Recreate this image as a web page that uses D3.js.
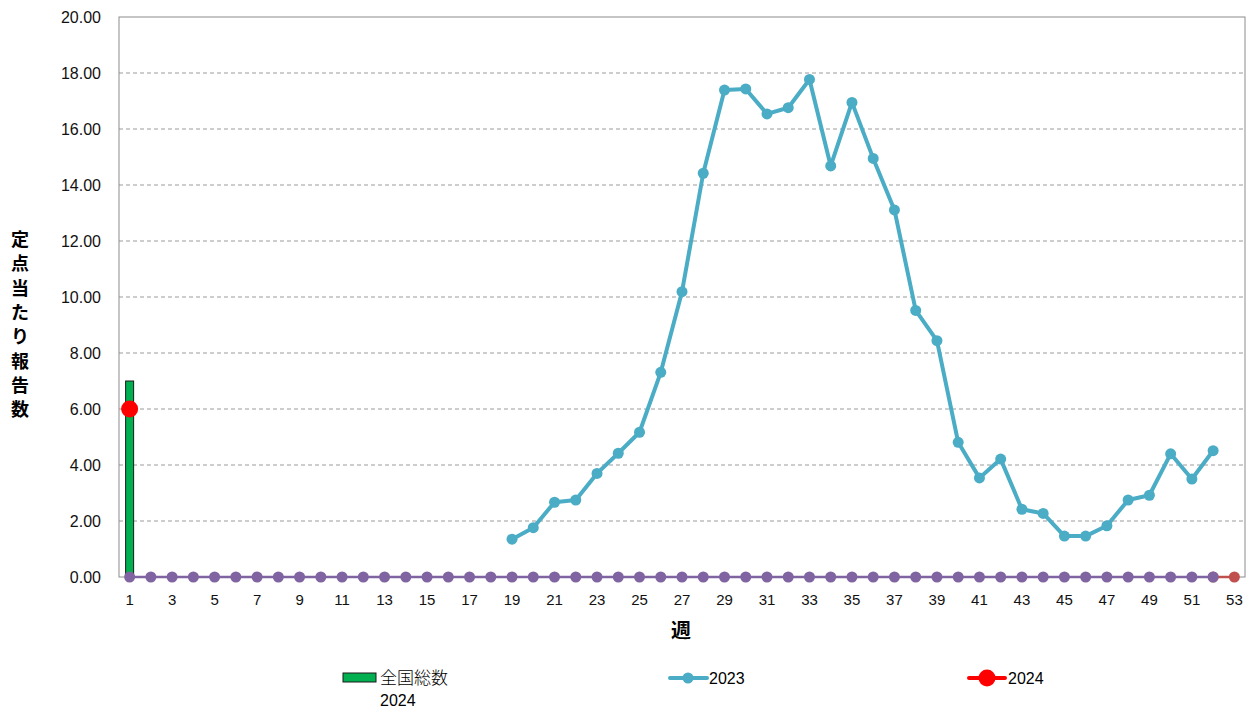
<!DOCTYPE html>
<html><head><meta charset="utf-8">
<title>定点当たり報告数</title>
<script src="https://cdn.jsdelivr.net/npm/d3@7"></script>
<style>
  html,body{margin:0;background:#fff;font-family:"Liberation Sans",Arial,sans-serif}
  .grid line{stroke:#9a9a9a;stroke-dasharray:4,3;stroke-width:1}
  .tick text{fill:#111}
</style>
</head><body>
<svg width="1253" height="708"></svg>
<script>
// --- data ---
const weeks = d3.range(1, 54);                 // 1..53
const yTicks = [0,2,4,6,8,10,12,14,16,18,20];
const totalWeeks = [1];                         // 全国総数 2024 (bar)
const totalValues = [7.0];
const y2023Weeks = d3.range(19, 53);            // 19..52
const y2023Values = [1.35,1.76,2.67,2.75,3.70,4.42,5.17,7.31,10.19,14.42,
  17.39,17.43,16.54,16.76,17.77,14.68,16.95,14.95,13.11,9.52,
  8.44,4.81,3.54,4.21,2.42,2.27,1.46,1.46,1.83,2.75,
  2.92,4.40,3.50,4.51];
const y2024Weeks = [1];
const y2024Values = [6.0];
const baseWeeks = d3.range(1, 53);              // purple zero series
const baseValues = baseWeeks.map(() => 0);
const tailWeeks = [52, 53];                     // dark red zero series
const tailValues = [0, 0];

// --- layout ---
const svg = d3.select('svg');
const L = 119, R = 1245, T = 17, B = 577;

const x = d3.scaleBand().domain(weeks).range([L, R]);
const cx = w => x(w) + x.bandwidth() / 2;
const y = d3.scaleLinear().domain([0, 20]).range([B, T]);

// grid
svg.append('g').attr('class','grid')
  .selectAll('line').data(yTicks.filter(t => t > 0 && t < 20)).join('line')
  .attr('x1', L).attr('x2', R).attr('y1', d => y(d)).attr('y2', d => y(d));

// border
svg.append('rect').attr('x', L).attr('y', T).attr('width', R - L).attr('height', B - T)
  .attr('fill','none').attr('stroke','#8c8c8c').attr('stroke-width',1);

// y axis
const yAxis = svg.append('g').attr('transform', `translate(${L},0)`)
  .call(d3.axisLeft(y).tickValues(yTicks).tickFormat(d3.format('.2f')).tickSize(0).tickPadding(18));
yAxis.select('.domain').remove();
yAxis.selectAll('text').style('font-size','16px');

// x axis
const xAxis = svg.append('g').attr('transform', `translate(0,${B})`)
  .call(d3.axisBottom(x).tickValues(weeks.filter(w => w % 2 === 1)).tickSize(0).tickPadding(17));
xAxis.select('.domain').remove();
xAxis.selectAll('text').style('font-size','15px');

// axis titles
svg.append('text').attr('x', 681).attr('y', 638).attr('text-anchor','middle')
  .style('font-size','20px').style('font-weight','bold')
  .style('font-family','"Noto Sans CJK JP",sans-serif').text('週');
const ytitle = '定点当たり報告数'.split('');
svg.append('g').selectAll('text').data(ytitle).join('text')
  .attr('x', 20).attr('y', (d, i) => 246 + i * 24.3).attr('text-anchor','middle')
  .style('font-size','18px').style('font-weight','bold')
  .style('font-family','"Noto Sans CJK JP",sans-serif').text(d => d);

// bars
svg.append('g').selectAll('rect').data(totalWeeks.map((w, i) => ({w, v: totalValues[i]}))).join('rect')
  .attr('x', d => cx(d.w) - 4).attr('width', 8)
  .attr('y', d => y(d.v)).attr('height', d => y(0) - y(d.v))
  .attr('fill','#00B050').attr('stroke','#1a1a1a').attr('stroke-width',1);

// line series helper
function series(ws, vs, color, lw, r) {
  const pts = ws.map((w, i) => ({w, v: vs[i]}));
  const g = svg.append('g');
  g.append('path').datum(pts)
    .attr('fill','none').attr('stroke', color).attr('stroke-width', lw)
    .attr('stroke-linejoin','round')
    .attr('d', d3.line().x(d => cx(d.w)).y(d => y(d.v)));
  g.selectAll('circle').data(pts).join('circle')
    .attr('cx', d => cx(d.w)).attr('cy', d => y(d.v)).attr('r', r).attr('fill', color);
}

series(tailWeeks, tailValues, '#C0504D', 2.5, 5.5);
series(baseWeeks, baseValues, '#8064A2', 2.5, 5.5);
series(y2023Weeks, y2023Values, '#4BACC6', 4, 5.5);
series(y2024Weeks, y2024Values, '#FF0000', 4, 8.5);

// legend
const lg = svg.append('g');
lg.append('rect').attr('x', 343).attr('y', 673).attr('width', 33).attr('height', 9)
  .attr('fill','#00B050').attr('stroke','#1a1a1a').attr('stroke-width',1);
lg.append('text').attr('x', 380).attr('y', 684).style('font-size','17px')
  .style('font-family','"Noto Sans CJK JP",sans-serif').style('font-weight','300').text('全国総数');
lg.append('text').attr('x', 380).attr('y', 706).style('font-size','16px').text('2024');

lg.append('line').attr('x1', 670).attr('x2', 707).attr('y1', 678).attr('y2', 678)
  .attr('stroke','#4BACC6').attr('stroke-width',4).attr('stroke-linecap','round');
lg.append('circle').attr('cx', 688).attr('cy', 678).attr('r', 5.5).attr('fill','#4BACC6');
lg.append('text').attr('x', 709).attr('y', 684).style('font-size','16px').text('2023');

lg.append('line').attr('x1', 969).attr('x2', 1005).attr('y1', 678).attr('y2', 678)
  .attr('stroke','#FF0000').attr('stroke-width',4).attr('stroke-linecap','round');
lg.append('circle').attr('cx', 987).attr('cy', 678).attr('r', 8.5).attr('fill','#FF0000');
lg.append('text').attr('x', 1008).attr('y', 684).style('font-size','16px').text('2024');
</script>
</body></html>
